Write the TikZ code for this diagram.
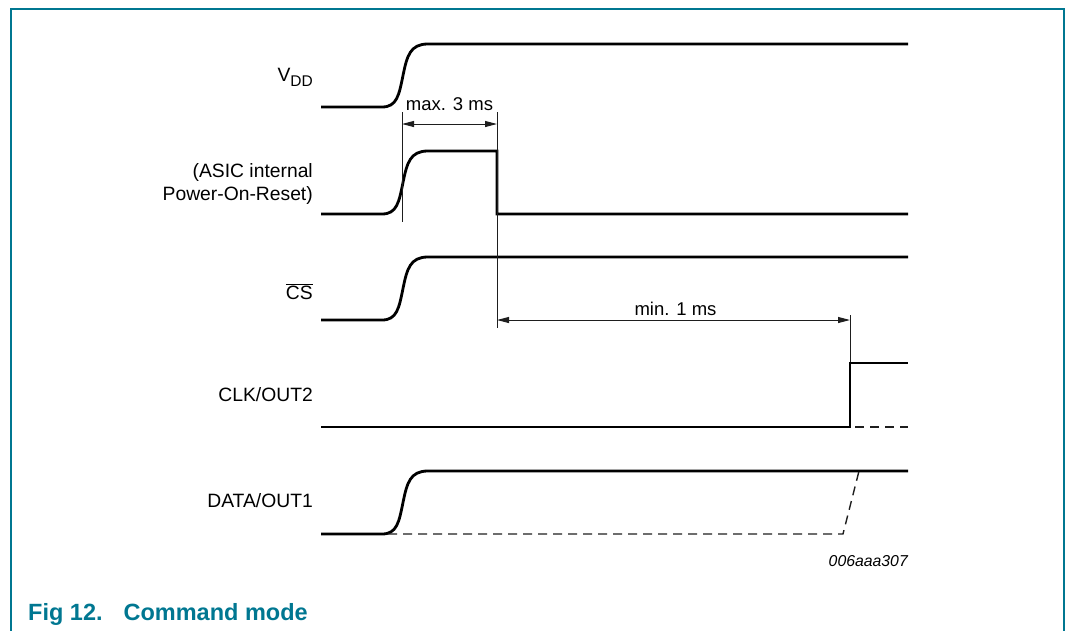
\documentclass[tikz,border=0pt]{standalone}
\usepackage{fontspec}
\setmainfont{Liberation Sans}
\usetikzlibrary{arrows.meta}
\definecolor{nxpteal}{RGB}{0,119,145}
\definecolor{dimgray}{RGB}{30,30,30}
\tikzset{
  sig/.style={line width=2.8pt, black, line join=miter},
  dashsig/.style={line width=1.4pt, dimgray, dash pattern=on 9pt off 6pt},
  dimline/.style={line width=1pt, dimgray},
  dimarrow/.style={line width=1pt, dimgray, {Triangle[length=12pt,width=6pt]}-{Triangle[length=12pt,width=6pt]}},
  lbl/.style={font=\fontsize{19.3}{23}\selectfont, inner sep=0pt, anchor=base east},
  dimlbl/.style={font=\fontsize{18.5}{22}\selectfont, inner sep=0pt, anchor=base},
  frameline/.style={line width=1.6pt, nxpteal}
}
\begin{document}
\begin{tikzpicture}[x=1pt,y=-1pt]
\useasboundingbox (0,0) rectangle (1066,630);
% frame
\draw[frameline] (11,631) -- (11,9) -- (1064,9) -- (1064,631);

% labels
\node[lbl] (lvdd) at (313,81) {V\raisebox{-0.3em}{\fontsize{15.5}{18}\selectfont DD}};
\node[lbl] (lpor1) at (313,177) {(ASIC internal};
\node[lbl] (lpor2) at (313,200) {Power-On-Reset)};
\node[lbl] (lcs) at (313,299) {$\overline{\mbox{CS}}$};
\node[lbl] (lclk) at (313,401) {CLK/OUT2};
\node[lbl] (ldata) at (313,507) {DATA/OUT1};

% VDD
\draw[sig] (321,107) -- (382,107) .. controls (397,107) and (399,95) .. (403,75.5)
  .. controls (407,56) and (410,44) .. (428,44) -- (908,44);
% POR
\draw[sig] (321,214) -- (382,214) .. controls (397,214) and (399,202) .. (403,182.5)
  .. controls (407,163) and (410,151) .. (428,151) -- (497,151) -- (497,214) -- (908,214);
% CS
\draw[sig] (321,320) -- (382,320) .. controls (397,320) and (399,308) .. (403,288.5)
  .. controls (407,269) and (410,257) .. (428,257) -- (908,257);
% CLK/OUT2
\draw[sig] (321,427) -- (850,427) -- (850,363) -- (908,363);
\draw[dashsig] (855,427) -- (908,427);
% DATA/OUT1
\draw[sig] (321,534) -- (382,534) .. controls (397,534) and (399,522) .. (403,502.5)
  .. controls (407,483) and (410,471) .. (428,471) -- (908,471);
\draw[dashsig] (388,534) -- (843,534) -- (859,471);

% dimension coordinates
\coordinate (t0top) at (402,112);
\coordinate (t0bot) at (402,222);
\coordinate (t1top) at (497,112);
\coordinate (t1bot) at (497,328);
\coordinate (t2top) at (850,315);
\coordinate (t2bot) at (850,362);
\coordinate (a0) at (402,124);
\coordinate (a1) at (497,124);
\coordinate (b0) at (497,320);
\coordinate (b1) at (850,320);

\draw[dimline] (t0top) -- (t0bot);
\draw[dimline] (t1top) -- (t1bot);
\draw[dimline] (t2top) -- (t2bot);
\draw[dimarrow] (a0) -- (a1);
\draw[dimarrow] (b0) -- (b1);

\node[dimlbl] (lmax) at (449.5,110) {max. 3 ms};
\node[dimlbl] (lmin) at (675.5,315) {min. 1 ms};

\node[font=\fontsize{15.8}{19}\selectfont\itshape, inner sep=0pt, anchor=base east] (code) at (908,566) {006aaa307};

\node[font=\fontsize{23.5}{28}\selectfont\bfseries, text=nxpteal, inner sep=0pt, anchor=base west] (title) at (28,620) {Fig 12.\hspace{21pt}Command mode};
\end{tikzpicture}
\end{document}
